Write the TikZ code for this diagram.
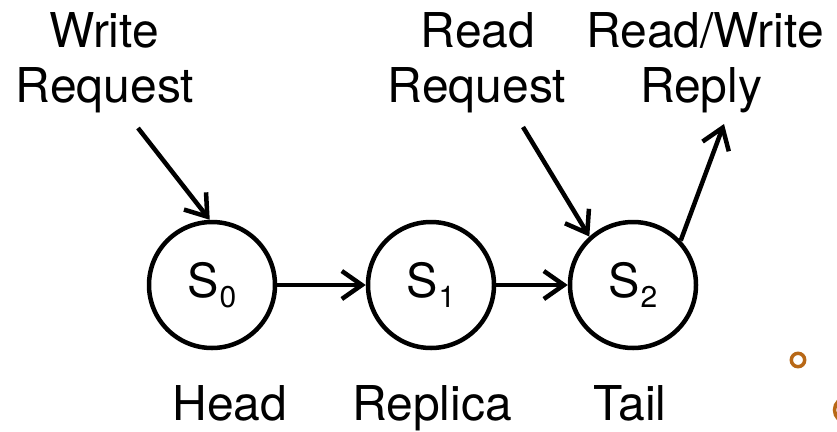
\documentclass[tikz,border=0pt]{standalone}
\usepackage{fontspec}
\setmainfont{TeX Gyre Heros}
\usetikzlibrary{arrows.meta}
\definecolor{markbrown}{RGB}{184,104,22}
\tikzset{
  label/.style={inner sep=0pt, anchor=base, font=\fontsize{48}{56}\selectfont},
  server/.style={circle, draw, line width=4.5pt, minimum size=126pt, inner sep=0pt,
                 font=\fontsize{47}{55}\selectfont},
  link/.style={line width=4.5pt, -{Straight Barb[length=20pt, width=28pt, line width=4.5pt]}},
  ring/.style={draw=markbrown, line width=3.5pt}
}
\newcommand{\srv}[1]{S\kern0.5pt\raisebox{-10pt}{\fontsize{30}{30}\selectfont #1}}
\begin{document}
\begin{tikzpicture}[x=1pt, y=-1pt]
  \clip (0,0) rectangle (837,431);
  \fill[white] (0,0) rectangle (837,431);

  % request / reply labels
  \node[label] (wr1) at (104,47) {Write};
  \node[label] (wr2) at (105,102) {Request};
  \node[label] (rr1) at (478,47) {Read};
  \node[label] (rr2) at (477,102) {Request};
  \node[label] (rp1) at (705,47) {Read/Write};
  \node[label] (rp2) at (701,102) {Reply};

  % chain of servers
  \node[server] (s0) at (212,285) {\srv{0}};
  \node[server] (s1) at (431,285) {\srv{1}};
  \node[server] (s2) at (633,285) {\srv{2}};

  % role labels
  \node[label] (head) at (230,420) {Head};
  \node[label] (repl) at (432,420) {Replica};
  \node[label] (tail) at (630,420) {Tail};

  % connectors
  \coordinate (wstart) at (138,128);
  \coordinate (rstart) at (523,127);
  \coordinate (pend) at (724,124);
  \draw[link] (wstart) -- (s0.92);
  \draw[link] (rstart) -- (s2.132);
  \draw[link] (s2.43) -- (pend);
  \draw[link] (s0) -- (s1);
  \draw[link] (s1) -- (s2);

  % small rings in the corner
  \draw[ring] (798,360) circle (6.7pt);
  \draw[ring] (847,410) circle (12.5pt);
\end{tikzpicture}
\end{document}
